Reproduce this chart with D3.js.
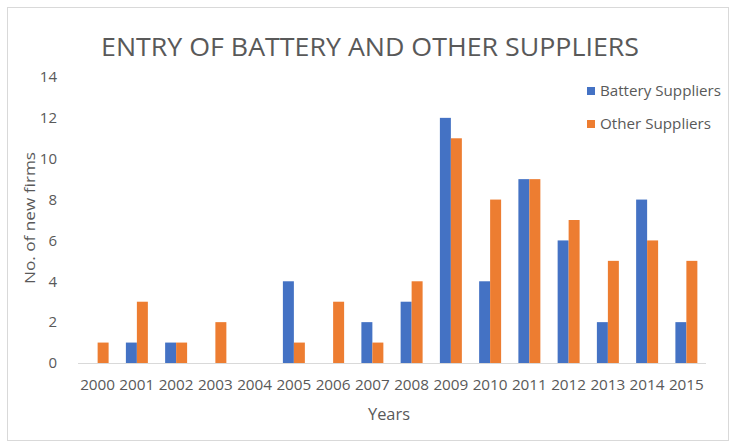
<!DOCTYPE html>
<html><head><meta charset="utf-8">
<script src="https://cdn.jsdelivr.net/npm/d3@7"></script>
<style>body{margin:0;background:#fff;} svg{display:block;}</style>
</head><body>
<svg id="c" width="736" height="446"></svg>
<script>
const years = ["2000","2001","2002","2003","2004","2005","2006","2007","2008","2009","2010","2011","2012","2013","2014","2015"];
const batterySuppliers = [0,1,1,0,0,4,0,2,3,12,4,9,6,2,8,2];
const otherSuppliers = [1,3,1,2,0,1,3,1,4,11,8,9,7,5,6,5];
const seriesNames = ["Battery Suppliers","Other Suppliers"];
const seriesColors = ["#4472C4","#ED7D31"];
const yTicks = [0,2,4,6,8,10,12,14];

const svg = d3.select("#c");
const font = "'Open Sans', 'Noto Sans', sans-serif";
const textColor = "#595959";

svg.append("rect").attr("x",7.5).attr("y",7.5).attr("width",721).attr("height",433)
  .attr("fill","#fff").attr("stroke","#d9d9d9").attr("stroke-width",1);

const x0 = d3.scaleBand().domain(years).range([78,706]).paddingInner(0.44).paddingOuter(0.22);
const x1 = d3.scaleBand().domain(seriesNames).range([0,x0.bandwidth()]);
const y = d3.scaleLinear().domain([0,14]).range([363,77]);

const data = years.map((yr,i)=>({year:yr, values:[batterySuppliers[i], otherSuppliers[i]]}));

const g = svg.append("g");
g.selectAll("g.cat").data(data).enter().append("g")
  .attr("transform",d=>`translate(${x0(d.year)},0)`)
  .selectAll("rect").data(d=>d.values.map((v,j)=>({v,j}))).enter().append("rect")
  .attr("x",d=>x1(seriesNames[d.j])).attr("width",x1.bandwidth())
  .attr("y",d=>y(d.v)).attr("height",d=>y(0)-y(d.v))
  .attr("fill",d=>seriesColors[d.j]);

// x axis
const xAxis = svg.append("g").attr("transform","translate(0,363)")
  .call(d3.axisBottom(x0).tickSize(0).tickPadding(16).tickSizeOuter(0));
xAxis.select(".domain").attr("stroke","#d9d9d9").attr("d","M78,0.5H706");
xAxis.selectAll("text").attr("font-family",font).attr("font-size",15).attr("fill",textColor)
  .attr("textLength",35).attr("lengthAdjust","spacingAndGlyphs");

// y axis
const yAxis = svg.append("g").attr("transform","translate(57,0)")
  .call(d3.axisLeft(y).tickValues(yTicks).tickSize(0).tickPadding(0));
yAxis.select(".domain").remove();
yAxis.selectAll("text").attr("font-family",font).attr("font-size",15).attr("fill",textColor);

// title
svg.append("text").attr("x",370).attr("y",56).attr("text-anchor","middle")
  .attr("font-family",font).attr("font-size",25).attr("fill",textColor)
  .attr("textLength",538).attr("lengthAdjust","spacingAndGlyphs")
  .text("ENTRY OF BATTERY AND OTHER SUPPLIERS");

// axis titles
svg.append("text").attr("x",389).attr("y",420).attr("text-anchor","middle")
  .attr("font-family",font).attr("font-size",16).attr("fill",textColor)
  .attr("textLength",42).attr("lengthAdjust","spacingAndGlyphs").text("Years");
svg.append("text").attr("transform","translate(35,218) rotate(-90)").attr("text-anchor","middle")
  .attr("font-family",font).attr("font-size",15).attr("fill",textColor)
  .attr("textLength",132).attr("lengthAdjust","spacingAndGlyphs").text("No. of new  firms");

// legend
const leg = svg.append("g");
seriesNames.forEach((n,i)=>{
  const yy = 91 + i*33;
  leg.append("rect").attr("x",587).attr("y",yy-4).attr("width",8).attr("height",8).attr("fill",seriesColors[i]);
  leg.append("text").attr("x",600).attr("y",yy+5).attr("font-family",font).attr("font-size",15)
    .attr("fill",textColor).attr("textLength",i===0?121:111).attr("lengthAdjust","spacingAndGlyphs").text(n);
});
</script>
</body></html>
